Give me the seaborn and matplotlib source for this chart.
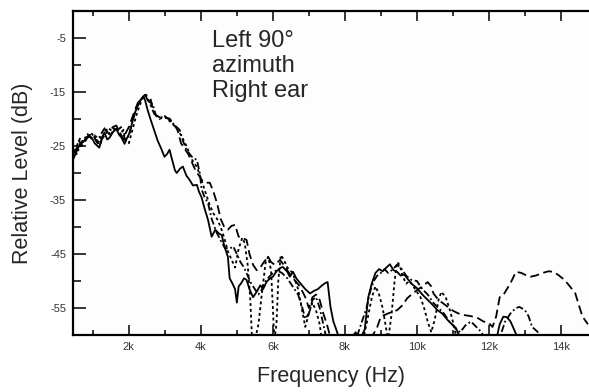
import numpy as np
import pandas as pd
import matplotlib
matplotlib.use("Agg")
import matplotlib.pyplot as plt
import seaborn as sns
from matplotlib.ticker import MultipleLocator, FuncFormatter

# Frequency responses (kHz, dB). Values below -60 fall off the axis.
solid_f = [0.45, 0.55, 0.65, 0.77, 0.9, 1.0, 1.05, 1.18, 1.25, 1.32, 1.4, 1.46, 1.55, 1.65,
           1.72, 1.8, 1.88, 1.95, 2.02, 2.1, 2.16, 2.25, 2.32, 2.4, 2.45, 2.52, 2.6, 2.7,
           2.8, 2.9, 2.99, 3.06, 3.13, 3.2, 3.28, 3.33, 3.42, 3.5, 3.6, 3.69, 3.78, 3.89,
           3.95, 4.02, 4.1, 4.2, 4.3, 4.4, 4.5, 4.58, 4.65, 4.75, 4.8, 4.88, 4.95, 5.0,
           5.05, 5.12, 5.2, 5.27, 5.35, 5.45, 5.55, 5.65, 5.73, 5.82, 5.92, 6.0, 6.1, 6.2,
           6.28, 6.4, 6.47, 6.56, 6.65, 6.76, 6.9, 7.03, 7.15, 7.25, 7.35, 7.45, 7.52, 7.6,
           7.68, 7.75, 7.82, 7.95, 8.1, 8.3, 8.4, 8.55, 8.65, 8.75, 8.85, 8.95, 9.05, 9.17,
           9.25, 9.35, 9.45, 9.55, 9.65, 9.73, 9.85, 10.0, 10.15, 10.3, 10.45, 10.57, 10.7,
           10.85, 11.0, 11.1, 11.2, 11.5, 12.2, 12.3, 12.4, 12.5, 12.6, 12.7, 12.8, 13.0]
solid_db = [-27.5, -26, -24.5, -24, -23.2, -23.8, -24.5, -25.3, -23.5, -22.5, -23.8, -23.5,
            -22.5, -21.8, -22.8, -23.5, -24.6, -23.5, -22.6, -20.5, -19, -17.5, -16.5, -15.8,
            -16.5, -18.3, -20, -22, -24, -25.5, -27, -26.5, -25.7, -27.5, -29.5, -30, -29.2,
            -28.8, -30.5, -31.3, -32.3, -32.2, -33.5, -34.5, -36.5, -38.7, -41.8, -40.5, -41.2,
            -41.5, -43.5, -45.5, -49.5, -50.5, -51.5, -54, -51, -50.4, -49.5, -49.8, -51.5,
            -53, -52, -50.8, -51.5, -50.2, -49.5, -49.2, -48.2, -47.6, -47.4, -48.3, -49.2,
            -48.3, -49.5, -50.4, -51.5, -52.3, -51.8, -51.5, -50.9, -50.4, -50.2, -54.8, -57.5,
            -58.8, -60.2, -61, -61, -59.5, -61, -59, -53, -50.4, -48.5, -47.8, -48.2, -47.4,
            -46.9, -48, -48.3, -49, -48.8, -49.5, -50.5, -51.3, -52.5, -53.5, -54.5, -55.4,
            -56, -57.2, -58.2, -59, -60.5, -61, -61, -58, -56.6, -56.7, -57.5, -59, -60.5, -62]

dash_f = [0.45, 0.55, 0.62, 0.7, 0.8, 0.9, 1.0, 1.1, 1.2, 1.28, 1.36, 1.45, 1.55, 1.65, 1.75,
          1.85, 1.92, 2.0, 2.08, 2.16, 2.25, 2.35, 2.45, 2.52, 2.6, 2.7, 2.8, 2.9, 3.0, 3.1,
          3.2, 3.35, 3.45, 3.55, 3.65, 3.75, 3.85, 3.95, 4.05, 4.15, 4.25, 4.35, 4.45, 4.55,
          4.65, 4.75, 4.85, 4.95, 5.05, 5.15, 5.27, 5.35, 5.45, 5.55, 5.65, 5.75, 5.87, 5.95,
          6.05, 6.2, 6.3, 6.45, 6.6, 6.75, 6.9, 7.0, 7.1, 7.2, 7.3, 7.4, 7.5, 7.6, 8.7, 8.9,
          9.0, 9.2, 9.45, 9.6, 9.73, 9.85, 10.0, 10.15, 10.3, 10.4, 10.46, 10.6, 10.8, 11.0,
          11.15, 11.3, 11.5, 11.7, 11.85, 12.0, 12.1, 12.2, 12.3, 12.4, 12.5, 12.6, 12.75,
          12.9, 13.05, 13.16, 13.3, 13.5, 13.65, 13.8, 13.95, 14.1, 14.25, 14.4, 14.5, 14.6,
          14.75]
dash_db = [-26.5, -25.5, -24, -25, -23.5, -23, -22.8, -24.2, -25, -23, -22, -22.8, -21.5,
           -21.2, -22.5, -23.8, -22.5, -21.5, -20, -18.5, -17, -16.2, -15.5, -16.5, -16.2,
           -19, -19.5, -19.8, -19.5, -20, -20.5, -22, -24.5, -25.5, -26.5, -28, -29.5, -30.5,
           -31.5, -31.8, -31.8, -33.5, -35.6, -38.5, -40, -40.5, -39.8, -39.6, -41.8, -42,
           -42.4, -45, -47, -48, -47.5, -46.5, -45.5, -46.5, -47, -46.1, -47, -48.5, -49.8,
           -51, -53, -55, -53, -52.5, -53.5, -56, -58, -60.5, -61, -58.5, -56.6, -56, -55.4,
           -54.5, -53.2, -52.5, -51.7, -51, -50.2, -51, -52.3, -53.5, -54.5, -55.5, -56, -56.3,
           -56.5, -56.9, -57.5, -57.8, -58.5, -56.6, -53, -52.6, -51.5, -50.4, -48.3, -48.5,
           -49, -49.2, -49, -48.5, -48.2, -48.3, -49, -49.8, -51, -52.3, -54.5, -56.6, -58]

dashdot_f = [0.45, 0.55, 0.65, 0.75, 0.85, 0.95, 1.05, 1.15, 1.25, 1.35, 1.42, 1.5, 1.6, 1.7,
             1.78, 1.85, 1.92, 2.0, 2.08, 2.18, 2.28, 2.38, 2.48, 2.56, 2.66, 2.75, 2.85, 3.0,
             3.13, 3.25, 3.41, 3.5, 3.6, 3.75, 3.89, 3.97, 4.02, 4.1, 4.2, 4.3, 4.43, 4.55,
             4.67, 4.8, 4.9, 5.0, 5.1, 5.2, 5.3, 5.4, 5.5, 5.6, 5.7, 5.8, 5.9, 6.0, 6.1, 6.25,
             6.4, 6.55, 6.7, 6.8, 6.9, 7.0, 7.1, 7.2, 7.3, 7.4, 7.5, 8.3, 8.45, 8.6, 8.7, 8.8,
             8.9, 9.0, 9.1, 9.2, 9.3, 9.45, 9.55, 9.7, 9.85, 10.0, 10.15, 10.3, 10.45, 10.6,
             10.75, 10.9, 11.05, 11.2, 11.35, 11.5, 11.65, 11.8, 11.9, 12.3, 12.45, 12.6,
             12.75, 12.85, 13.0, 13.1, 13.2, 13.35, 13.5]
dashdot_db = [-25.5, -26.5, -25, -23.8, -22.8, -23.5, -23, -24.5, -22.5, -21.5, -22.5, -23,
              -21.5, -22, -21.5, -23, -24, -23, -21, -18.5, -17, -16, -16.2, -16.8, -17.2,
              -19.3, -19.6, -19.8, -19.9, -21, -22, -24, -25.7, -27, -27.6, -30, -33, -34.4,
              -35.6, -38.5, -40.9, -42.5, -43.9, -44, -43.6, -45, -46.5, -47.5, -49, -50.5,
              -51.5, -52.5, -51.5, -50, -49.2, -48.5, -48, -48.5, -49.5, -51, -52.5, -54.5,
              -57, -56, -53.5, -53, -55, -58, -61, -61, -58, -55, -52, -50, -49, -48.5, -47.8,
              -48.5, -48, -47, -47.5, -49, -49.8, -50, -51.5, -52.5, -54, -55, -56, -57.5,
              -58.5, -59.5, -58.2, -57.5, -58.5, -59.5, -61, -60.5, -57.5, -56, -55, -54.8,
              -55.4, -56.5, -58.5, -59.4, -61]

dot_f = [0.45, 0.55, 0.65, 0.75, 0.85, 0.95, 1.05, 1.15, 1.25, 1.35, 1.45, 1.55, 1.65, 1.75,
         1.85, 1.9, 2.0, 2.1, 2.2, 2.3, 2.4, 2.48, 2.55, 2.7, 2.85, 3.0, 3.15, 3.3, 3.45, 3.6,
         3.75, 3.9, 4.05, 4.15, 4.25, 4.35, 4.45, 4.55, 4.65, 4.75, 4.85, 4.95, 5.05, 5.15,
         5.22, 5.3, 5.37, 5.42, 5.5, 5.6, 5.7, 5.8, 5.87, 5.95, 6.0, 6.04, 6.1, 6.15, 6.22,
         6.3, 6.4, 6.55, 6.7, 6.8, 6.9, 7.0, 7.1, 7.2, 7.3, 7.35, 8.5, 8.6, 8.75, 8.85, 8.95,
         9.05, 9.15, 9.2, 9.3, 9.38, 9.45, 9.52, 9.6, 9.7, 9.8, 9.95, 10.1, 10.2, 10.3, 10.4,
         10.5, 10.6, 10.68, 10.8, 10.9, 11.0, 11.1]
dot_db = [-27, -25, -23.5, -24.5, -23.5, -22.5, -23.5, -23, -23.8, -22.8, -21.8, -22.3, -21.5,
          -23, -22, -24, -24.5, -22, -19.5, -17.5, -15.8, -15.5, -16.5, -19, -20, -19.5, -20.5,
          -21.5, -23, -25, -27.5, -29, -32, -34, -36, -37.5, -38.5, -40, -42, -44.5, -46,
          -47.5, -44, -42, -43, -47, -53, -60.5, -61, -58, -52, -46.5, -45.5, -48, -55, -61,
          -58, -50, -45.2, -46, -47.5, -48.5, -51.5, -55, -58.5, -56, -54, -55.5, -58, -60.5,
          -61, -58, -53, -51, -52.5, -55, -59, -61, -56, -50, -46.5, -47, -49, -50.5, -50,
          -51.5, -53, -55, -57.5, -59.5, -57, -53.5, -52, -53, -55, -57.5, -60.5]

series = [
    (solid_f, solid_db, "-"),
    (dash_f, dash_db, (0, (5, 2.5))),
    (dashdot_f, dashdot_db, (0, (4, 1.5, 1, 1.5))),
    (dot_f, dot_db, (0, (1.6, 1.6))),
]

sns.set_style("white")
plt.rcParams["font.family"] = ["Liberation Sans", "DejaVu Sans"]

fig = plt.figure(figsize=(5.89, 3.92), dpi=100)
ax = fig.add_axes([0.124, 0.1454, 0.876, 0.8265])
ax.set_facecolor("#fdfdfd")

for f, db, ls in series:
    sns.lineplot(x=f, y=db, ax=ax, color="black", linewidth=1.3, linestyle=ls,
                 sort=False, estimator=None)

ax.set_xlim(0.45, 14.78)
ax.set_ylim(-60, 0)

ax.xaxis.set_major_locator(MultipleLocator(2))
ax.xaxis.set_minor_locator(MultipleLocator(1))
ax.xaxis.set_major_formatter(FuncFormatter(lambda v, p: f"{v:g}k"))
ax.yaxis.set_major_locator(MultipleLocator(10, offset=5))
ax.yaxis.set_minor_locator(MultipleLocator(5))
ax.yaxis.set_major_formatter(FuncFormatter(lambda v, p: f"{v:g}"))

ax.tick_params(axis="x", which="both", direction="in", top=True, bottom=True,
               labelsize=8, labelcolor="#333333", pad=5, width=1.3)
ax.tick_params(axis="x", which="major", length=7)
ax.tick_params(axis="x", which="minor", length=3.5)
ax.tick_params(axis="y", which="both", direction="in", left=True, right=False,
               labelsize=8, labelcolor="#333333", pad=5, width=1.3)
ax.tick_params(axis="y", which="major", length=9)
ax.tick_params(axis="y", which="minor", length=6)

for side in ["left", "top", "bottom"]:
    ax.spines[side].set_linewidth(1.6)
    ax.spines[side].set_color("black")
ax.spines["right"].set_visible(False)

ax.set_xlabel("Frequency (Hz)", fontsize=15.5, labelpad=10)
ax.set_ylabel("Relative Level (dB)", fontsize=15.5, labelpad=12)

ax.text(0.27, 0.94, "Left 90°\nazimuth\nRight ear", transform=ax.transAxes,
        fontsize=17, va="top", ha="left", linespacing=1.15)

fig.savefig("out.png", dpi=100)
